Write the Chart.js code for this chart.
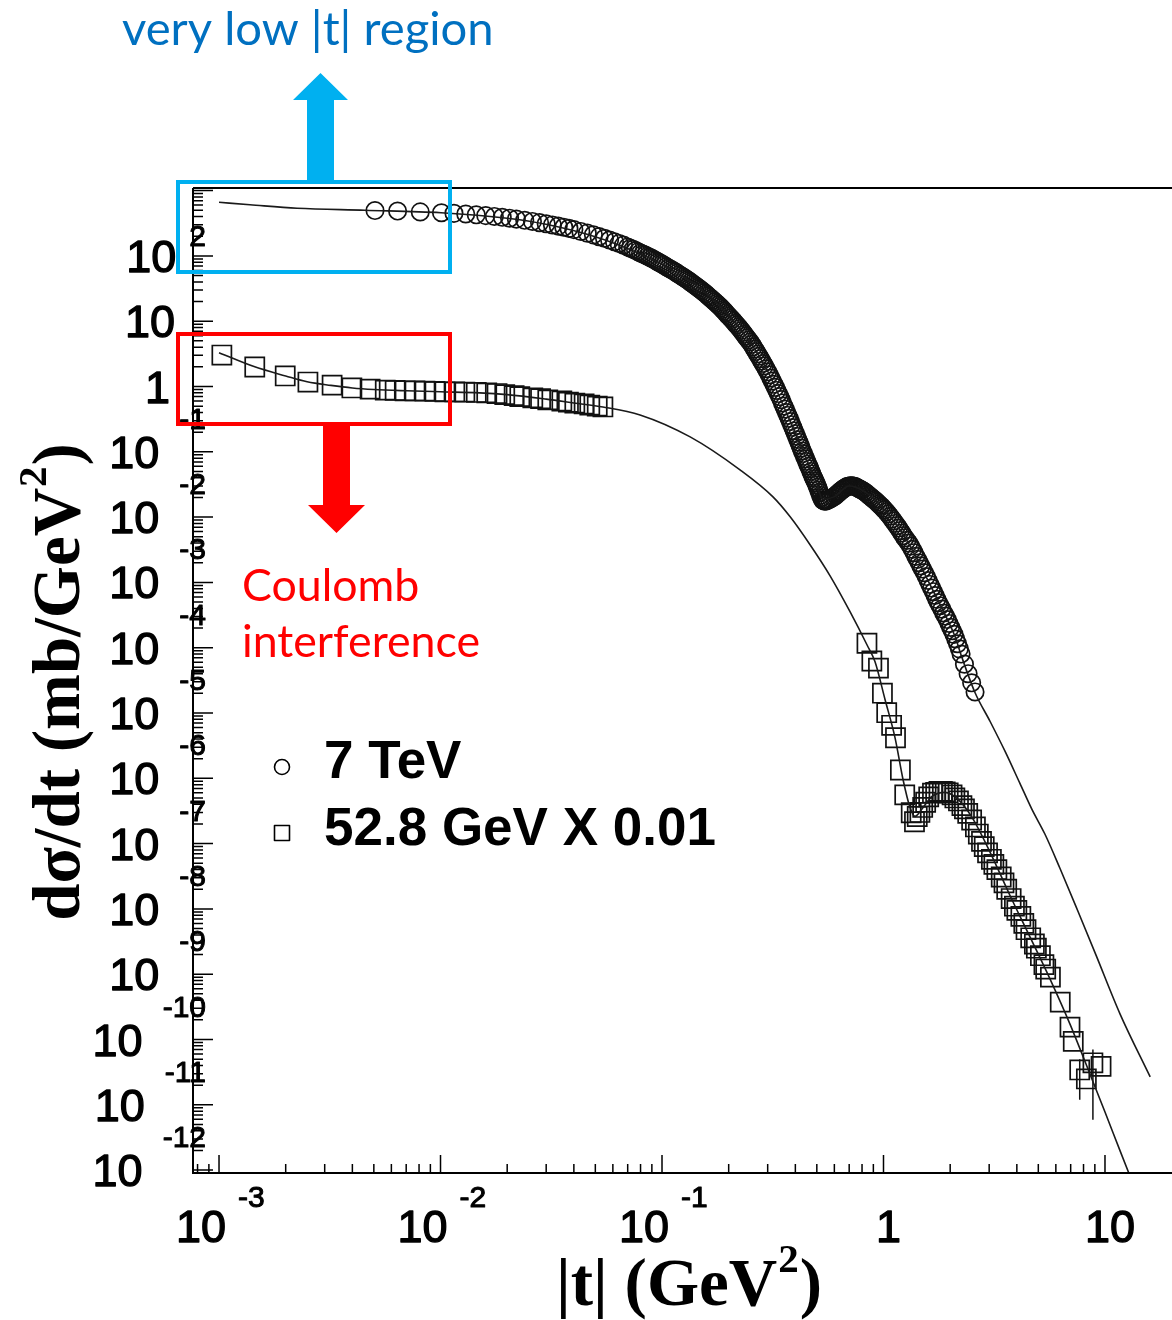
<!DOCTYPE html>
<html>
<head>
<meta charset="utf-8">
<title>dσ/dt vs |t|</title>
<script src="https://cdn.jsdelivr.net/npm/chart.js@4.4.1/dist/chart.umd.min.js"></script>
<style>
  html, body { margin:0; padding:0; background:#ffffff; }
  #box { position:relative; width:1172px; height:1320px; overflow:hidden; background:#fff; }
  #chart { display:block; }
</style>
</head>
<body>
<div id="box"><canvas id="chart" width="1172" height="1320"></canvas></div>
<script>
// ---------------- data ----------------
// 7 TeV data points (circles): |t| in GeV^2, dσ/dt in mb/GeV^2
const tev7T = [
  0.00506,0.0064,0.0081,0.0101,0.0115,0.013,0.0145,0.016,0.0175,0.019,0.0205,0.022,
  0.024,0.026,0.028,0.030,0.032,0.034,0.036,0.038,0.040,
  0.043,0.046,0.049,0.052,0.055,0.058,0.061,0.064,0.067,0.070,
  0.072,0.074,0.076,0.078,0.080,0.082,0.084,0.086,0.088,0.090,0.092,0.094,0.096,0.098,0.100,0.102,
  0.1045,0.107,0.1095,0.112,0.1145,0.117,0.1195,0.122,0.1245,0.127,0.1295,0.132,0.1345,0.137,0.1395,0.142,0.1445,0.147,0.1495,0.152,0.155,
  0.158,0.161,0.164,0.167,0.170,0.173,0.176,0.179,0.182,0.185,0.188,0.191,0.194,0.197,0.200,0.2035,
  0.207,0.2105,0.214,0.2175,0.221,0.2245,0.228,0.2315,0.235,0.2385,0.242,0.246,
  0.250,0.254,0.258,0.262,0.266,0.270,0.274,0.278,0.282,0.286,0.290,0.295,
  0.300,0.305,0.310,0.315,0.320,0.325,0.330,0.335,0.340,0.345,0.350,0.355,0.360,0.365,0.370,0.375,0.380,0.385,0.390,0.395,0.400,
  0.405,0.410,0.415,0.420,0.425,0.430,0.435,0.440,0.445,0.450,0.455,0.460,0.465,0.470,0.475,0.480,0.485,0.490,0.495,0.500,
  0.505,0.510,0.515,0.520,0.525,0.530,0.535,0.540,0.545,0.550,0.555,0.560,0.570,
  0.580,0.590,0.600,0.610,0.620,0.630,0.640,0.650,0.660,0.670,0.680,0.690,0.700,0.710,0.720,0.730,0.740,0.750,0.760,0.770,0.780,0.790,0.800,
  0.815,0.830,0.845,0.860,0.875,0.890,0.905,0.920,0.935,0.950,0.965,0.980,0.995,1.010,
  1.030,1.050,1.070,1.090,1.110,1.130,1.150,1.170,1.190,1.210,1.230,1.250,
  1.275,1.300,1.325,1.350,1.375,1.400,1.425,1.450,1.475,1.500,
  1.530,1.560,1.590,1.620,1.650,1.680,1.710,1.740,1.770,1.800,
  1.835,1.870,1.905,1.940,1.975,2.010,2.045,2.080,
  2.120,2.160,2.200,2.240,2.320,2.410,2.500,2.590];
const tev7Y = [
  495,486,472,458,448,438,426,414,402,390,378,366,
  351,337,323,310,298,286,275,264,253,
  237,223,210,197,186,175,165,155,146,137,
  131,126,121,116,111,107,103,99,95,91.5,88,84.5,81,78,75,72,
  68.5,65.2,62.3,59.6,57.0,54.4,51.9,49.7,47.5,45.4,43.4,41.5,39.6,37.9,36.2,34.6,33.1,31.6,30.2,28.9,27.4,
  26.0,24.6,23.3,22.0,20.9,19.8,18.8,17.8,16.9,16.0,15.1,14.3,13.5,12.7,12.0,11.3,
  10.6,9.95,9.3,8.75,8.2,7.7,7.2,6.75,6.3,5.9,5.55,5.15,
  4.8,4.42,4.05,3.73,3.43,3.15,2.90,2.67,2.45,2.25,2.07,1.87,
  1.68,1.51,1.35,1.21,1.08,0.97,0.87,0.78,0.70,0.63,0.56,0.50,0.45,0.40,0.36,0.325,0.29,0.26,0.235,0.21,0.19,
  0.172,0.154,0.140,0.126,0.114,0.103,0.094,0.085,0.078,0.071,0.065,0.060,0.055,0.050,0.046,0.042,0.039,0.036,0.0335,0.031,
  0.0285,0.026,0.0237,0.0215,0.0199,0.0185,0.018,0.0176,0.0176,0.0177,0.0179,0.0181,0.0186,
  0.0192,0.0199,0.0207,0.0217,0.0228,0.0239,0.025,0.0261,0.0272,0.0282,0.029,0.0296,0.030,0.0302,0.0302,0.030,0.0296,0.029,0.0284,0.0277,0.027,0.0264,0.0258,
  0.0248,0.0238,0.0226,0.0215,0.0205,0.0195,0.0186,0.0178,0.0169,0.0160,0.0152,0.0145,0.0137,0.0130,
  0.0121,0.0112,0.0103,0.0094,0.0087,0.0080,0.0074,0.0068,0.0062,0.0057,0.0052,0.0048,
  0.0044,0.0040,0.0036,0.0032,0.00285,0.0025,0.00225,0.0020,0.00179,0.00160,
  0.00141,0.00123,0.00107,0.00093,0.00082,0.00072,0.00063,0.00055,0.00049,0.00044,
  0.00039,0.00034,0.000305,0.00027,0.000235,0.000205,0.000182,0.000160,
  0.000136,0.000115,9.6e-5,8.0e-5,5.6e-5,4.0e-5,2.9e-5,2.1e-5];

// 7 TeV fitted curve
const fit7T = [0.00100,0.00138,0.00225,0.00456,0.01005,0.0200,0.0299,0.0499,0.0703,0.100,
  0.150,0.201,0.250,0.301,0.352,0.398,0.452,0.501,0.531,0.598,
  0.699,0.825,0.964,1.187,1.387,1.622,1.896,2.104,2.261,2.588,
  3.03,3.54,4.13,4.68,5.36,6.26,7.55,9.11,11.7,16.0];
const fit7Y = [662,607,536,500,458,377,305,197,129,74.6,
  31.0,12.0,4.79,1.67,0.521,0.201,0.0726,0.0312,0.0188,0.0204,
  0.0301,0.0244,0.0154,0.00639,0.00265,0.000922,0.000321,0.000148,7.06e-5,2.06e-5,
  7.41e-6,2.58e-6,8.36e-7,3.34e-7,1.39e-7,4.19e-8,9.2e-9,1.96e-9,2.45e-10,2.67e-11];

// 52.8 GeV data points x 0.01 (squares)
const isrT = [0.00103,0.00145,0.00199,0.00252,0.00324,0.00398,0.00481,0.00563,0.00624,0.00692,
  0.00767,0.00851,0.00944,0.01047,0.0116,0.01288,0.0145,0.01617,0.018,0.0195,
  0.0215,0.0228,0.0261,0.0283,0.0305,0.0353,0.0378,0.0404,0.0445,0.0472,
  0.051,0.0541,
  0.842,0.886,0.949,0.989,1.034,1.088,1.133,1.192,1.247,1.334,
  1.380,1.42,1.46,1.503,1.55,1.60,1.664,1.72,1.78,1.844,
  1.90,1.96,2.04,2.10,2.18,2.26,2.32,2.40,2.50,2.60,
  2.68,2.77,2.85,2.95,3.07,3.15,3.25,3.40,3.50,3.60,
  3.77,3.90,4.00,4.17,4.30,4.40,4.62,4.80,4.90,5.11,
  5.30,5.40,5.67,6.28,6.95,7.19,7.69,8.24,8.82,9.60];
const isrY = [3.03,1.99,1.45,1.17,1.05,0.95,0.91,0.88,0.87,0.86,
  0.855,0.85,0.84,0.83,0.825,0.82,0.81,0.80,0.78,0.75,
  0.725,0.70,0.67,0.65,0.625,0.60,0.575,0.557,0.54,0.52,
  0.50,0.486,
  1.17e-4,6.26e-5,4.86e-5,2.01e-5,1.01e-5,6.48e-6,4.18e-6,1.34e-6,5.57e-7,2.97e-7,
  2.16e-7,2.6e-7,3.0e-7,3.58e-7,4.3e-7,5.2e-7,5.94e-7,6.1e-7,6.3e-7,6.31e-7,
  6.2e-7,6.0e-7,5.57e-7,5.0e-7,4.5e-7,3.81e-7,3.4e-7,2.9e-7,2.30e-7,1.8e-7,
  1.4e-7,1.08e-7,9.0e-8,7.2e-8,5.75e-8,4.8e-8,4.0e-8,3.08e-8,2.5e-8,2.0e-8,
  1.44e-8,1.1e-8,9.5e-9,7.67e-9,6.0e-9,4.8e-9,3.61e-9,2.9e-9,2.5e-9,1.92e-9,
  1.4e-9,1.2e-9,9.03e-10,3.74e-10,1.55e-10,9.35e-11,3.42e-11,2.49e-11,4.40e-11,3.88e-11];

// 52.8 GeV fitted curve (x 0.01)
const fit53T = [0.00100,0.00145,0.0020,0.0025,0.0032,0.0040,0.0050,0.0070,0.0100,0.0150,
  0.0200,0.0300,0.0400,0.0541,0.0796,0.134,0.225,0.317,0.379,0.466,
  0.573,0.706,0.842,0.915,1.016,1.127,1.225,1.317,1.387,1.492,
  1.655,1.895,2.17,2.51,3.03,3.72,4.59,5.65,6.95,8.55,
  10.0,11.7,14.4];
const fit53Y = [3.3,2.0,1.45,1.18,1.04,0.95,0.90,0.86,0.83,0.80,
  0.75,0.64,0.56,0.486,0.367,0.169,0.0529,0.0204,0.0101,3.77e-3,
  1.27e-3,3.56e-4,1.11e-4,6.13e-5,1.61e-5,4.2e-6,9.6e-7,3.59e-7,2.61e-7,3.4e-7,
  5.28e-7,6.08e-7,4.75e-7,2.52e-7,7.36e-8,1.62e-8,3.69e-9,8.41e-10,1.72e-10,2.97e-11,
  7.78e-12,1.97e-12,3.3e-13];

// error bars of the last 52.8 GeV points
const errT  = [7.69, 8.82];
const errLo = [1.2e-11, 5.9e-12];
const errHi = [5.0e-11, 7.0e-11];

// axis ranges and tick labels (powers of ten)
const X_MIN = 7.63e-4, X_MAX = 20.07;
const Y_MIN = 9.03e-13, Y_MAX = 1096;
const xTickExp = [-3, -2, -1, 0, 1];
const yTickExp = [2, 1, 0, -1, -2, -3, -4, -5, -6, -7, -8, -9, -10, -11, -12];

// legend / text
const legendLabels = ['7 TeV', '52.8 GeV X 0.01'];
const xTitle = ['|t| (GeV', '2', ')'];
const yTitle = ['dσ/dt (mb/GeV', '2', ')'];
const noteTop = 'very low |t| region';
const noteLow = ['Coulomb', 'interference'];

// ---------------- build ----------------
const pts = (xs, ys) => xs.map((v, i) => ({x: v, y: ys[i]}));
const errData = [];
errT.forEach((t, i) => { errData.push({x: t, y: errLo[i]}, {x: t, y: errHi[i]}, {x: t, y: null}); });

const SANS = '"Liberation Sans", Arial, Helvetica, sans-serif';
const SERIF = '"Liberation Serif", "Times New Roman", serif';
const NOTE = 'Lato, "Open Sans", sans-serif';

// text with a slight outline to mimic the heavy ROOT labels
function heavyText(ctx, txt, x, y, w) {
  ctx.lineWidth = w; ctx.lineJoin = 'round';
  ctx.strokeText(txt, x, y);
  ctx.fillText(txt, x, y);
}

const rootFrame = {
  id: 'rootFrame',
  afterDraw(chart) {
    const {ctx, chartArea: a} = chart;
    const xs = chart.scales.x, ys = chart.scales.y;
    ctx.save();
    ctx.strokeStyle = '#000';
    ctx.lineWidth = 2;
    ctx.beginPath();
    ctx.moveTo(a.left, a.top); ctx.lineTo(a.right, a.top);
    ctx.moveTo(a.left, a.top); ctx.lineTo(a.left, a.bottom); ctx.lineTo(a.right, a.bottom);
    ctx.stroke();
    // inward ticks
    ctx.lineWidth = 1.5;
    ctx.beginPath();
    for (let e = -4; e <= 1; e++) for (let m = 1; m <= 9; m++) {
      const v = m * Math.pow(10, e);
      if (v < xs.min || v > xs.max) continue;
      const px = xs.getPixelForValue(v);
      if (px > a.right - 4 || px < a.left + 2) continue;
      const len = m === 1 ? 18 : 9;
      ctx.moveTo(px, a.bottom); ctx.lineTo(px, a.bottom - len);
    }
    for (let e = -13; e <= 3; e++) for (let m = 1; m <= 9; m++) {
      const v = m * Math.pow(10, e);
      if (v < ys.min || v > ys.max) continue;
      const py = ys.getPixelForValue(v);
      if (py < a.top + 2 || py > a.bottom - 2) continue;
      const len = m === 1 ? 20 : 10;
      ctx.moveTo(a.left, py); ctx.lineTo(a.left + len, py);
    }
    ctx.stroke();

    // tick labels
    const big = '45px ' + SANS, small = '30px ' + SANS;
    ctx.fillStyle = '#000';
    ctx.strokeStyle = '#000';
    ctx.textBaseline = 'alphabetic';
    xTickExp.forEach(e => {
      const X = xs.getPixelForValue(Math.pow(10, e));
      const base = a.bottom + 69;
      if (e >= 0) {
        ctx.font = big; ctx.textAlign = 'center';
        heavyText(ctx, e === 0 ? '1' : '10', X + 5, base, 1.3);
      } else {
        ctx.font = big; ctx.textAlign = 'right';
        heavyText(ctx, '10', X + 7, base, 1.3);
        ctx.font = small; ctx.textAlign = 'left';
        heavyText(ctx, String(e), X + 19, base - 35, 1);
      }
    });
    yTickExp.forEach(e => {
      const Y = ys.getPixelForValue(Math.pow(10, e));
      ctx.font = big; ctx.textAlign = 'right';
      if (e === 0) { heavyText(ctx, '1', 170, Y + 16, 1.3); return; }
      if (e === 1) { heavyText(ctx, '10', 175, Y + 16, 1.3); return; }
      const sup = String(e);
      ctx.font = small;
      const sw = ctx.measureText(sup).width;
      const supBase = e > 0 ? Y - 10 : Y - 23;
      heavyText(ctx, sup, 206, supBase, 1);
      ctx.font = big;
      heavyText(ctx, '10', 206 - sw - (e > 0 ? 13 : 20), Y + 16, 1.3);
    });

    // axis titles
    const tBig = 'bold 67px ' + SERIF, tSmall = 'bold 41px ' + SERIF;
    const drawTitle = (parts, cx, base) => {
      ctx.font = tBig; const w1 = ctx.measureText(parts[0]).width, w3 = ctx.measureText(parts[2]).width;
      ctx.font = tSmall; const w2 = ctx.measureText(parts[1]).width;
      let u = cx - (w1 + w2 + w3) / 2;
      ctx.textAlign = 'left';
      ctx.font = tBig; ctx.fillText(parts[0], u, base); u += w1;
      ctx.font = tSmall; ctx.fillText(parts[1], u + 1, base - 33); u += w2 + 2;
      ctx.font = tBig; ctx.fillText(parts[2], u, base);
    };
    drawTitle(xTitle, 688, 1305);
    ctx.save();
    ctx.translate(79, 0);
    ctx.rotate(-Math.PI / 2);
    drawTitle(yTitle, -683, 0);
    ctx.restore();

    // legend
    ctx.lineWidth = 1.6;
    ctx.strokeStyle = '#000';
    ctx.beginPath(); ctx.arc(282, 767, 7.5, 0, Math.PI * 2); ctx.stroke();
    ctx.strokeRect(274.5, 825.5, 15, 15);
    ctx.font = 'bold 53px ' + SANS; ctx.textAlign = 'left';
    ctx.fillText(legendLabels[0], 324, 778);
    ctx.fillText(legendLabels[1], 324, 845);
    ctx.restore();
  }
};

const notes = {
  id: 'notes',
  afterDraw(chart) {
    const ctx = chart.ctx;
    ctx.save();
    // blue box + up arrow
    ctx.strokeStyle = '#00B0F0'; ctx.fillStyle = '#00B0F0'; ctx.lineWidth = 4;
    ctx.strokeRect(178, 182, 272, 90);
    ctx.beginPath();
    ctx.moveTo(307, 184); ctx.lineTo(307, 100); ctx.lineTo(293, 100); ctx.lineTo(320.5, 73);
    ctx.lineTo(348, 100); ctx.lineTo(334, 100); ctx.lineTo(334, 184); ctx.closePath(); ctx.fill();
    // red box + down arrow
    ctx.strokeStyle = '#FF0000'; ctx.fillStyle = '#FF0000';
    ctx.strokeRect(178, 334, 272, 90);
    ctx.beginPath();
    ctx.moveTo(323, 422); ctx.lineTo(323, 505); ctx.lineTo(308, 505); ctx.lineTo(336.5, 533);
    ctx.lineTo(365, 505); ctx.lineTo(350, 505); ctx.lineTo(350, 422); ctx.closePath(); ctx.fill();
    // texts
    ctx.textBaseline = 'alphabetic'; ctx.textAlign = 'left';
    const fit = (txt, target, size) => {
      ctx.font = size + 'px ' + NOTE;
      const w = ctx.measureText(txt).width;
      return size * target / w;
    };
    let s = fit(noteTop, 372, 46);
    ctx.font = s.toFixed(1) + 'px ' + NOTE; ctx.fillStyle = '#0070C0';
    ctx.fillText(noteTop, 122, 45);
    s = fit(noteLow[1], 238, 46);
    ctx.font = s.toFixed(1) + 'px ' + NOTE; ctx.fillStyle = '#FF0000';
    ctx.fillText(noteLow[0], 242, 601);
    ctx.fillText(noteLow[1], 242, 657);
    ctx.restore();
  }
};

Chart.defaults.font.family = SANS;
new Chart(document.getElementById('chart'), {
  type: 'scatter',
  data: {
    datasets: [
      { label: '7 TeV fit', data: pts(fit7T, fit7Y), showLine: true, pointRadius: 0,
        borderColor: '#1a1a1a', borderWidth: 1.6, cubicInterpolationMode: 'monotone', fill: false },
      { label: '52.8 GeV fit', data: pts(fit53T, fit53Y), showLine: true, pointRadius: 0,
        borderColor: '#1a1a1a', borderWidth: 1.6, cubicInterpolationMode: 'monotone', fill: false },
      { label: 'errors', data: errData, showLine: true, spanGaps: false, pointRadius: 0,
        borderColor: '#111', borderWidth: 1.5, fill: false },
      { label: legendLabels[0], data: pts(tev7T, tev7Y), pointStyle: 'circle', pointRadius: 8.7,
        borderColor: '#111', borderWidth: 1.7, backgroundColor: 'rgba(0,0,0,0)', showLine: false },
      { label: legendLabels[1], data: pts(isrT, isrY), pointStyle: 'rect', pointRadius: 13.5,
        borderColor: '#111', borderWidth: 1.7, backgroundColor: 'rgba(0,0,0,0)', showLine: false }
    ]
  },
  options: {
    responsive: false,
    animation: false,
    devicePixelRatio: 1,
    events: [],
    layout: { autoPadding: false, padding: { left: 193, top: 188, right: 0, bottom: 147 } },
    plugins: { legend: { display: false }, tooltip: { enabled: false } },
    scales: {
      x: { type: 'logarithmic', min: X_MIN, max: X_MAX, display: false },
      y: { type: 'logarithmic', min: Y_MIN, max: Y_MAX, display: false }
    }
  },
  plugins: [rootFrame, notes]
});
</script>
</body>
</html>
